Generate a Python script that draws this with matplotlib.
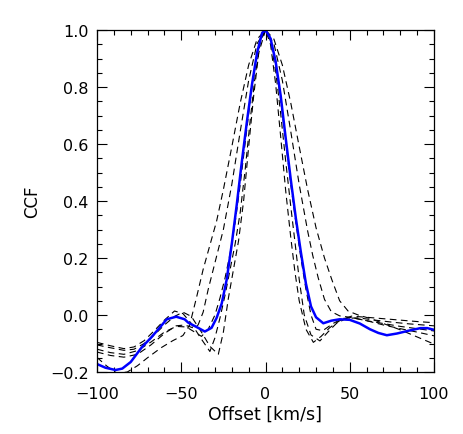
import numpy as np
import matplotlib
matplotlib.use("Agg")
import matplotlib.pyplot as plt
from matplotlib.ticker import MultipleLocator

#data (offset in km/s, ccf)
#mean ccf, solid blue
blue_x = [-100, -95, -89, -85, -80, -73.5, -68, -63.6, -58.6, -53, -48, -45.8, -40, -36, -32, -29, -26,
          -23, -20, -17, -14, -11, -8, -5, -2, 0, 3, 6, 9, 12, 15, 18, 21, 24, 27, 30, 34.3, 39, 44,
          50, 56, 62, 67, 72, 78, 85, 92, 96, 100]
blue_y = [-0.172, -0.185, -0.193, -0.188, -0.165, -0.114, -0.08, -0.05, -0.015, -0.006, -0.015, -0.027,
          -0.045, -0.058, -0.045, -0.01, 0.04, 0.125, 0.25, 0.39, 0.54, 0.68, 0.81, 0.92, 0.99, 1.0,
          0.97, 0.89, 0.77, 0.62, 0.475, 0.34, 0.22, 0.11, 0.03, -0.008, -0.029, -0.02, -0.015, -0.017,
          -0.03, -0.05, -0.063, -0.071, -0.065, -0.055, -0.046, -0.046, -0.052]

#individual ccfs, dashed black
ccf_a_x = [-100, -94, -88, -82, -76, -70, -62, -55, -49, -45, -41, -37, -33, -29, -25, -20, -15, -10, -5,
           0, 5, 10, 15, 20, 25, 30, 35, 39.3, 44, 49, 55, 62, 70, 80, 90, 100]
ccf_a_y = [-0.149, -0.18, -0.205, -0.2, -0.178, -0.15, -0.115, -0.09, -0.072, -0.035, 0.06, 0.16, 0.245,
           0.33, 0.44, 0.59, 0.744, 0.877, 0.968, 1.0, 0.968, 0.877, 0.744, 0.591, 0.44, 0.306, 0.2,
           0.125, 0.05, 0.014, 0.0, -0.012, -0.03, -0.052, -0.077, -0.102]

ccf_b_x = [-100, -92, -84, -76, -68, -60, -53, -48, -43, -40, -37, -34, -31, -28, -25, -20, -15, -10, -5,
           0, 5, 10, 15, 20, 25, 28, 31.3, 35, 39, 44, 50, 60, 70, 80, 90, 100]
ccf_b_y = [-0.13, -0.142, -0.148, -0.138, -0.105, -0.065, -0.038, -0.035, -0.045, -0.035, 0.01, 0.09,
           0.16, 0.23, 0.3, 0.458, 0.644, 0.823, 0.952, 1.0, 0.952, 0.823, 0.644, 0.458, 0.295, 0.21,
           0.13, 0.055, 0.012, -0.003, -0.008, -0.02, -0.035, -0.048, -0.06, -0.073]

ccf_c_x = [-100, -92, -84, -78, -72, -66, -60, -54, -49, -44, -38, -33, -30, -27, -24, -21, -18, -15, -12,
           -9, -6, -3, 0, 3, 6, 9, 12, 15, 17.5, 20, 24, 28.4, 33, 38, 44, 51, 60, 70, 80, 90, 100]
ccf_c_y = [-0.096, -0.108, -0.118, -0.112, -0.09, -0.055, -0.018, 0.014, 0.005, -0.03, -0.085, -0.128,
           -0.08, -0.01, 0.07, 0.16, 0.25, 0.36, 0.514, 0.688, 0.847, 0.959, 1.0, 0.949, 0.812, 0.626,
           0.435, 0.272, 0.15, 0.05, -0.05, -0.096, -0.075, -0.045, -0.02, -0.004, -0.008, -0.013,
           -0.018, -0.023, -0.027]

ccf_d_x = [-100, -92, -84, -78, -72, -66, -60, -54, -49, -44, -38, -33, -28, -25, -22, -19, -16, -13, -10,
           -7, -4, 0, 3, 6, 9, 12, 15, 18, 20, 23, 27, 32.3, 37, 42, 48, 55, 65, 75, 85, 100]
ccf_d_y = [-0.105, -0.115, -0.124, -0.12, -0.1, -0.07, -0.035, -0.005, 0.01, -0.005, -0.06, -0.11,
           -0.138, -0.06, 0.06, 0.16, 0.26, 0.4, 0.59, 0.77, 0.92, 1.0, 0.962, 0.857, 0.707, 0.539,
           0.381, 0.23, 0.125, 0.0, -0.07, -0.091, -0.06, -0.03, -0.012, -0.01, -0.018, -0.025,
           -0.031, -0.038]

ccf_e_x = [-100, -92, -84, -76, -68, -60, -53, -47, -42, -38, -34, -30, -27, -24, -21, -18, -15, -12, -9,
           -6, -3, 0, 3, 6, 9, 12, 15, 18, 21, 24, 27, 30, 34, 40, 46, 52, 60, 70, 80, 90, 100]
ccf_e_y = [-0.12, -0.132, -0.138, -0.125, -0.095, -0.06, -0.04, -0.042, -0.06, -0.075, -0.05, 0.0, 0.06,
           0.13, 0.216, 0.325, 0.458, 0.607, 0.755, 0.882, 0.969, 1.0, 0.969, 0.882, 0.755, 0.607,
           0.458, 0.325, 0.2, 0.09, 0.0, -0.05, -0.055, -0.03, -0.012, -0.01, -0.02, -0.03, -0.04,
           -0.048, -0.056]

dashed_curves = [(ccf_a_x, ccf_a_y), (ccf_b_x, ccf_b_y), (ccf_c_x, ccf_c_y),
                 (ccf_d_x, ccf_d_y), (ccf_e_x, ccf_e_y)]

plt.rcParams['font.family'] = ['DejaVu Sans']

fig = plt.figure(figsize=(4.63, 4.35), dpi=100)
ax = fig.add_axes([97/463, 62/435, 337/463, 342/435])

#dashed individual ccfs
for cx, cy in dashed_curves:
    ax.plot(cx, cy, color='black', lw=0.8, linestyle=(0, (6, 4)))
#mean ccf on top
ax.plot(blue_x, blue_y, color='blue', lw=1.8)

ax.set_xlim(-100, 100)
ax.set_ylim(-0.2, 1.0)
ax.xaxis.set_major_locator(MultipleLocator(50))
ax.xaxis.set_minor_locator(MultipleLocator(10))
ax.yaxis.set_major_locator(MultipleLocator(0.2))
ax.yaxis.set_minor_locator(MultipleLocator(0.05))
ax.set_xticks([-100, -50, 0, 50, 100])
ax.set_xticklabels(['\u2212100', '\u221250', '0', '50', '100'])
ax.set_yticks([-0.2, 0.0, 0.2, 0.4, 0.6, 0.8, 1.0])
ax.set_yticklabels(['\u22120.2', '0.0', '0.2', '0.4', '0.6', '0.8', '1.0'])

#idl style ticks: inside, all four sides
ax.tick_params(which='both', direction='in', top=True, right=True, width=0.8, colors='black')
ax.tick_params(which='major', length=7, labelsize=11.5)
ax.tick_params(which='minor', length=3.5)
ax.tick_params(axis='x', which='major', pad=10)
ax.tick_params(axis='y', which='major', pad=6)
for sp in ax.spines.values():
    sp.set_linewidth(0.9)

ax.set_xlabel('Offset [km/s]', fontsize=12.5, labelpad=3)
ax.set_ylabel('CCF', fontsize=12, labelpad=6)

fig.savefig('out.png', dpi=100)
